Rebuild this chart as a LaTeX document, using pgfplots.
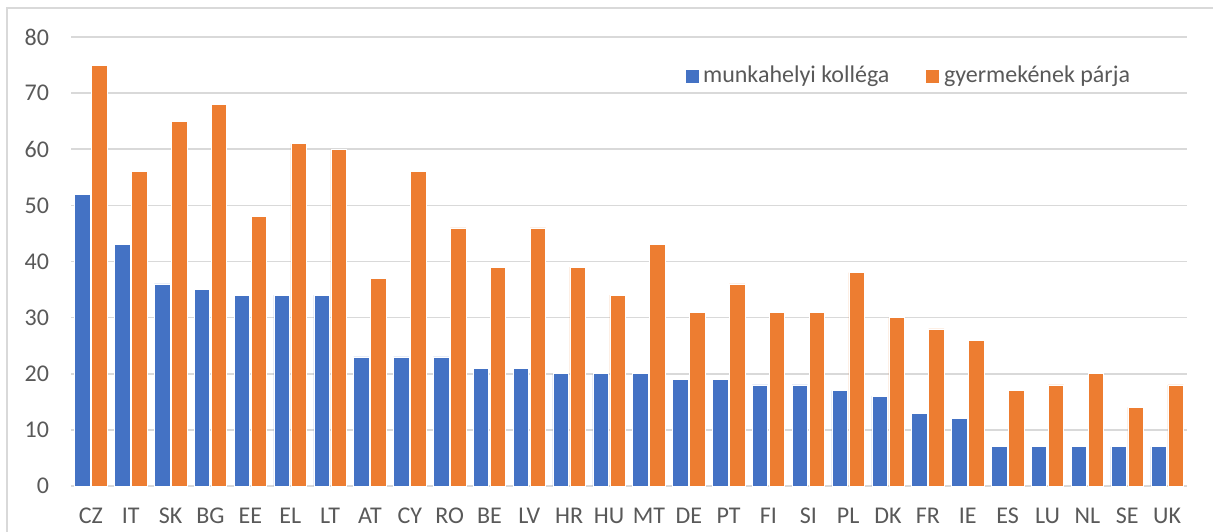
\documentclass[border=0pt]{standalone}
\usepackage{pgfplots}
\pgfplotsset{compat=1.18}
\usepackage{fontspec}
\setmainfont{Carlito}
\definecolor{kollega}{HTML}{4472C4}
\definecolor{parja}{HTML}{ED7D31}
\definecolor{gridgray}{HTML}{D9D9D9}
\definecolor{textgray}{HTML}{595959}

\pgfplotstableread{
idx country kollega parja
0  CZ 52 75
1  IT 43 56
2  SK 36 65
3  BG 35 68
4  EE 34 48
5  EL 34 61
6  LT 34 60
7  AT 23 37
8  CY 23 56
9  RO 23 46
10 BE 21 39
11 LV 21 46
12 HR 20 39
13 HU 20 34
14 MT 20 43
15 DE 19 31
16 PT 19 36
17 FI 18 31
18 SI 18 31
19 PL 17 38
20 DK 16 30
21 FR 13 28
22 IE 12 26
23 ES 7 17
24 LU 7 18
25 NL 7 20
26 SE 7 14
27 UK 7 18
}\adat

\begin{document}
\begin{tikzpicture}[x=0.5pt,y=0.5pt]
\useasboundingbox (0,0) rectangle (1213,531);
\draw[gridgray, line width=1pt] (7,-5) -- (7,523) -- (1220,523);
\begin{axis}[
    at={(71pt*0.5,45pt*0.5)}, anchor=south west,
    scale only axis,
    width=558pt, height=224.5pt,
    ybar,
    ymin=0, ymax=80,
    ytick={0,10,...,80},
    xmin=-0.5, xmax=27.5,
    xtick=data,
    xticklabels from table={\adat}{country},
    /pgf/number format/assume math mode=true,
    axis line style={draw=none},
    tick style={draw=none},
    ymajorgrids,
    grid style={gridgray, line width=0.8pt},
    font=\fontsize{12}{14}\selectfont,
    tick label style={textgray},
    y tick label style={xshift=-7.5pt},
    x tick label style={yshift=-3pt},
    bar width=7.75pt,
    legend columns=2,
    legend style={draw=none, fill=none, at={(0.544,0.913)}, anchor=west,
        text=textgray, font=\fontsize{12}{14}\selectfont,
        /tikz/every even column/.append style={column sep=16pt}},
    legend image code/.code={\fill[#1] (0pt,-3.5pt) rectangle (7pt,3.5pt);},
]
\addplot[fill=kollega, draw=white, line width=0.3pt, bar shift=-4.25pt] table[x=idx, y=kollega] {\adat};
\addplot[fill=parja, draw=white, line width=0.3pt, bar shift=4.25pt] table[x=idx, y=parja] {\adat};
\legend{munkahelyi kolléga, gyermekének párja}
\end{axis}
\end{tikzpicture}
\end{document}
